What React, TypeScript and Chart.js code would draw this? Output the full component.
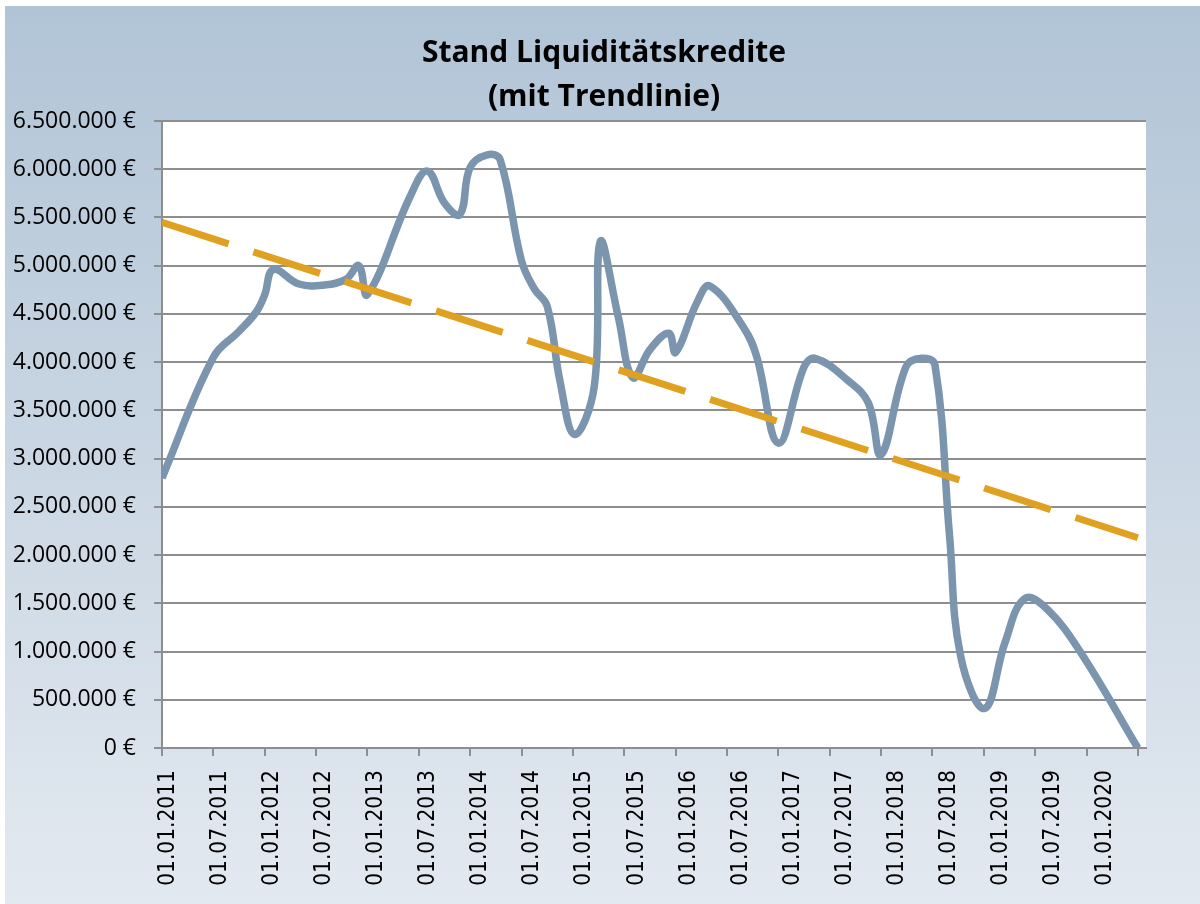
import React, { useEffect, useRef } from 'react';
import { Chart, registerables } from 'chart.js';

Chart.register(...registerables);

const titleLines = ['Stand Liquiditätskredite', '(mit Trendlinie)'];

const tickLabels = [
  '01.01.2011', '01.07.2011', '01.01.2012', '01.07.2012', '01.01.2013',
  '01.07.2013', '01.01.2014', '01.07.2014', '01.01.2015', '01.07.2015',
  '01.01.2016', '01.07.2016', '01.01.2017', '01.07.2017', '01.01.2018',
  '01.07.2018', '01.01.2019', '01.07.2019', '01.01.2020', '01.07.2020',
];

// months since 01.01.2011
const months = [
  0, 6, 9, 11, 12, 13, 16, 19, 21.5, 23, 24, 29, 31, 33, 34.8, 36, 38, 39.5,
  42, 43.5, 45, 46.5, 48.2, 50.5, 51.2, 53.3, 55, 57, 59.2, 60, 62.5, 64, 68,
  69.5, 72, 75, 76.3, 80, 82.5, 84, 86.9, 88.7, 90.3, 92, 93.3, 96.1, 98.5,
  100.8, 103.5, 107.4, 114,
];

const values = [
  2800000, 4050000, 4320000, 4520000, 4700000, 4960000, 4810000, 4800000,
  4860000, 5000000, 4700000, 5720000, 5980000, 5650000, 5530000, 6020000,
  6150000, 6100000, 5050000, 4760000, 4580000, 3800000, 3250000, 3750000,
  5250000, 4470000, 3840000, 4130000, 4300000, 4100000, 4620000, 4790000,
  4350000, 4050000, 3160000, 3950000, 4040000, 3820000, 3580000, 3040000,
  3950000, 4040000, 3970000, 2200000, 950000, 410000, 1100000, 1550000,
  1430000, 980000, 0,
];

const trendMonths = [0, 114];
const trendValues = [5450000, 2180000];

const yMin = 0;
const yMax = 6500000;
const yStep = 500000;
const xMin = 0;
const xMax = 114.95;
const xStep = 6;

const gridColor = '#8E8E8E';

function formatEuro(v: number): string {
  if (v === 0) return '0 €';
  return String(Math.round(v)).replace(/\B(?=(\d{3})+(?!\d))/g, '.') + ' €';
}

const bgPlugin = {
  id: 'bgPlugin',
  beforeDraw(chart: any) {
    const { ctx, chartArea, width, height } = chart;
    ctx.save();
    ctx.fillStyle = '#ffffff';
    ctx.fillRect(0, 0, width, height);
    const g = ctx.createLinearGradient(0, 6, 0, height);
    g.addColorStop(0, '#B1C4D6');
    g.addColorStop(1, '#E3E9F0');
    ctx.fillStyle = g;
    ctx.fillRect(5, 6, width - 5, height - 6);
    ctx.fillStyle = '#ffffff';
    ctx.fillRect(chartArea.left, chartArea.top, chartArea.right - chartArea.left, chartArea.bottom - chartArea.top);
    ctx.fillStyle = '#000000';
    ctx.font = 'bold 30px "Open Sans", "Noto Sans", sans-serif';
    ctx.textAlign = 'center';
    ctx.textBaseline = 'middle';
    ctx.fillText(titleLines[0], 604, 53);
    ctx.fillText(titleLines[1], 604, 97);
    ctx.restore();
  },
};

export default function App() {
  const ref = useRef<HTMLCanvasElement>(null);
  useEffect(() => {
    document.body.style.margin = '0';
    const labelStep = 52.04;
    const firstLabelPx = 168.3;
    const areaLeft = 162;
    const areaWidth = 984;
    const labelMin = -(firstLabelPx - areaLeft) / labelStep;
    const labelMax = labelMin + areaWidth / labelStep;

    const lineData = months.map((m, i) => ({ x: m, y: values[i] }));
    const trendData = trendMonths.map((m, i) => ({ x: m, y: trendValues[i] }));

    const chart = new Chart(ref.current as HTMLCanvasElement, {
      type: 'line',
      data: {
        datasets: [
          {
            label: 'Trendlinie',
            data: trendData,
            borderColor: '#E0A020',
            borderWidth: 7,
            borderDash: [70, 26],
            borderCapStyle: 'butt',
            pointRadius: 0,
            tension: 0,
            fill: false,
            order: 0,
          },
          {
            label: 'Stand Liquiditätskredite',
            data: lineData,
            borderColor: '#7A95AD',
            borderWidth: 7.5,
            pointRadius: 0,
            tension: 0.4,
            fill: false,
            borderJoinStyle: 'round',
            order: 1,
          },
        ],
      },
      options: {
        responsive: false,
        animation: false,
        devicePixelRatio: 1,
        layout: { padding: { top: 121, right: 54, left: 0, bottom: 0 } },
        plugins: {
          legend: { display: false },
          tooltip: { enabled: false },
          title: { display: false },
        },
        scales: {
          x: {
            type: 'linear',
            position: 'bottom',
            min: xMin,
            max: xMax,
            afterFit: (s: any) => { s.height = 8; },
            ticks: { display: false, stepSize: xStep, includeBounds: false },
            grid: { drawOnChartArea: false, drawTicks: true, tickLength: 8, color: gridColor, lineWidth: 2 },
            border: { display: true, color: gridColor, width: 2 },
          },
          xl: {
            type: 'linear',
            position: 'bottom',
            min: labelMin,
            max: labelMax,
            afterFit: (s: any) => { s.height = 148; },
            ticks: {
              stepSize: 1,
              autoSkip: false,
              includeBounds: false,
              minRotation: 90,
              maxRotation: 90,
              padding: 14,
              color: '#000000',
              font: { family: '"DejaVu Sans Condensed", "DejaVu Sans", sans-serif', size: 22.5 },
              callback: (v: any) => (Number.isInteger(v) && tickLabels[v] ? tickLabels[v] : ''),
            },
            grid: { display: false, drawTicks: false, drawOnChartArea: false },
            border: { display: false },
          },
          y: {
            type: 'linear',
            min: yMin,
            max: yMax,
            afterFit: (s: any) => { s.width = 162; },
            ticks: {
              stepSize: yStep,
              padding: 18,
              color: '#000000',
              font: { family: '"Open Sans", "Noto Sans", sans-serif', size: 23 },
              callback: (v: any) => formatEuro(Number(v)),
            },
            grid: { color: gridColor, lineWidth: 2, tickLength: 8 },
            border: { color: gridColor, width: 2 },
          },
        },
      },
      plugins: [bgPlugin],
    } as any);
    return () => chart.destroy();
  }, []);

  return (
    <div style={{ position: 'absolute', left: 0, top: 0, width: 1200, height: 904 }}>
      <canvas ref={ref} width={1200} height={904} style={{ display: 'block', width: 1200, height: 904 }} />
    </div>
  );
}
